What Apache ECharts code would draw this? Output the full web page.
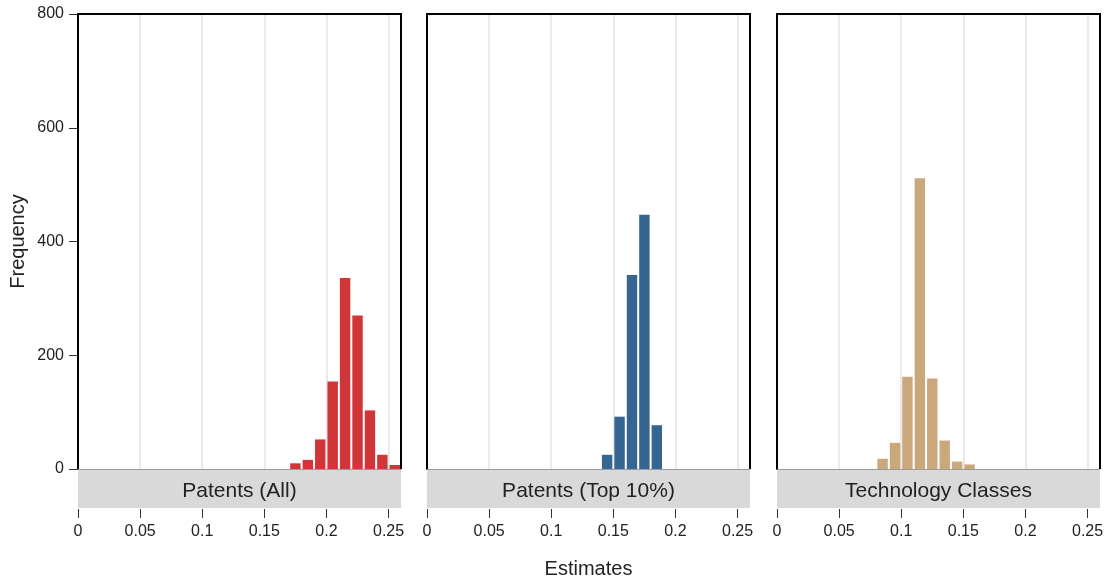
<!DOCTYPE html>
<html><head><meta charset="utf-8">
<script src="https://cdn.jsdelivr.net/npm/echarts@6/dist/echarts.min.js"></script>
<style>html,body{margin:0;padding:0;background:#fff}#c{width:1107px;height:579px}</style>
</head><body><div id="c"></div>
<script>
// ---- data ----
const panelTitles = ['Patents (All)', 'Patents (Top 10%)', 'Technology Classes'];
const xTicks = [0, 0.05, 0.1, 0.15, 0.2, 0.25];
const yTicks = [0, 200, 400, 600, 800];
const binWidth = 0.01;
const allBinStarts = [0.17, 0.18, 0.19, 0.20, 0.21, 0.22, 0.23, 0.24, 0.25];
const allCounts    = [10, 16, 52, 154, 336, 270, 103, 25, 7];
const top10BinStarts = [0.14, 0.15, 0.16, 0.17, 0.18];
const top10Counts    = [25, 92, 341, 447, 77];
const techBinStarts = [0.08, 0.09, 0.10, 0.11, 0.12, 0.13, 0.14, 0.15];
const techCounts    = [18, 46, 162, 511, 159, 50, 13, 8];

const colors = ['#d03538', '#376591', '#caa87c'];
const series3 = [
  [allBinStarts, allCounts],
  [top10BinStarts, top10Counts],
  [techBinStarts, techCounts]
];

const lefts = [78, 427, 777];
const W = 323, TOP = 14, H = 455;
const FONT = '"Liberation Sans", Arial, sans-serif';

const grids = [], xAxes = [], yAxes = [], series = [], graphics = [];
lefts.forEach((l, i) => {
  grids.push({ left: l, top: TOP, width: W, height: H, containLabel: false, outerBoundsMode: 'none' });
  xAxes.push({
    type: 'value', gridIndex: i, min: 0, max: 0.26, interval: 0.05,
    position: 'bottom', offset: 40,
    axisLine: { show: true, onZero: false, lineStyle: { color: '#333', opacity: 0 } },
    axisTick: { show: true, length: 9, lineStyle: { color: '#333', width: 1 }, customValues: xTicks },
    axisLabel: { show: true, fontSize: 16, color: '#222', fontFamily: FONT, margin: 15, customValues: xTicks,
      formatter: v => String(v) },
    splitLine: { show: true, lineStyle: { color: '#e3e3e3', width: 1.5 } },
    name: i === 1 ? 'Estimates' : '', nameLocation: 'middle', nameGap: 50,
    nameTextStyle: { fontSize: 20, color: '#222', fontFamily: FONT }
  });
  yAxes.push({
    type: 'value', gridIndex: i, min: 0, max: 800, interval: 200,
    axisLine: { show: true, onZero: false, lineStyle: { color: '#000', width: 2 } },
    axisTick: { show: i === 0, length: 9, lineStyle: { color: '#333', width: 1 } },
    axisLabel: { show: i === 0, fontSize: 16, color: '#222', fontFamily: FONT, margin: 14 },
    splitLine: { show: false },
    name: i === 0 ? 'Frequency' : '', nameLocation: 'middle', nameGap: 50, nameRotate: 90,
    nameTextStyle: { fontSize: 20, color: '#222', fontFamily: FONT }
  });
  const [starts, counts] = series3[i];
  const color = colors[i];
  series.push({
    type: 'custom', xAxisIndex: i, yAxisIndex: i,
    data: starts.map((s, k) => [s, counts[k]]),
    renderItem: function (params, api) {
      const x0 = api.value(0), y = api.value(1);
      const p0 = api.coord([x0, 0]);
      const p1 = api.coord([x0 + binWidth, y]);
      return {
        type: 'rect',
        shape: { x: p0[0] + 1, y: p1[1], width: p1[0] - p0[0] - 2, height: p0[1] - p1[1] },
        style: { fill: color }
      };
    },
    clip: true
  });
  // strip + frame
  graphics.push({ type: 'rect', shape: { x: l, y: TOP + H, width: W, height: 39 }, style: { fill: '#d9d9d9' }, z: 10 });
  graphics.push({ type: 'line', shape: { x1: l, y1: TOP + H + 0.5, x2: l + W, y2: TOP + H + 0.5 }, style: { stroke: '#9a9a9a', lineWidth: 1 }, z: 11 });
  graphics.push({ type: 'polyline', shape: { points: [[l, TOP + H], [l, TOP], [l + W, TOP], [l + W, TOP + H]] },
    style: { stroke: '#000', lineWidth: 2, fill: null }, z: 12 });
  graphics.push({ type: 'text', x: l + W / 2, y: TOP + H + 22, z: 13,
    style: { text: panelTitles[i], fontSize: 21, fill: '#222', fontFamily: FONT, align: 'center', verticalAlign: 'middle' } });
});

const chart = echarts.init(document.getElementById('c'), null, { renderer: 'canvas' });
chart.setOption({
  animation: false,
  backgroundColor: '#fff',
  textStyle: { fontFamily: FONT },
  grid: grids, xAxis: xAxes, yAxis: yAxes, series: series,
  graphic: graphics
});
</script></body></html>
